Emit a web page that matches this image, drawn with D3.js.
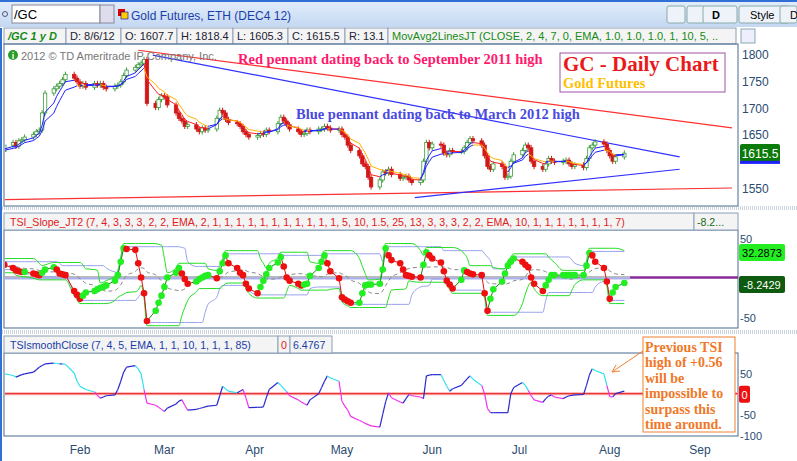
<!DOCTYPE html>
<html><head><meta charset="utf-8">
<script src="https://cdn.jsdelivr.net/npm/d3@7"></script>
<style>body{margin:0;background:#fff;font-family:"Liberation Sans",Arial,sans-serif;}</style>
</head><body>
<svg id="c" width="797" height="461"></svg>
<script>
// daily closes, Jan 3 .. Aug 6 2012
const closes = [1615,1622,1618,1630,1635,1628,1638,1640,1645,1650,1655,1658,
1690,1727,1735,1740,1745,1752,1762,
1755,1748,1740,1745,1738,1745,1742,1745,
1738,1735,1740,1742,1748,1760,1770,
1775,1780,1783,1790,
1708,1700,1715,1722,1720,1705,1690,1680,
1675,1665,1668,1660,1655,1662,1658,1660,
1680,1695,1690,1678,1672,1670,1665,
1655,1650,1645,1648,1652,1650,1658,1655,
1670,1682,1675,1668,1660,1655,1650,
1652,1658,1655,1660,1660,1665,1662,1658,1660,
1650,1645,1630,1620,1610,1595,1590,1570,1552,
1565,1580,1578,1585,1575,1568,1570,
1572,1565,1560,1565,1600,1635,
1625,1632,1630,1615,1612,1620,1618,1618,
1625,1635,1642,1638,1630,1610,1590,
1585,1595,1590,1570,1572,1600,1612,
1620,1630,1625,1600,1590,1585,
1595,1605,1600,1598,1600,1602,1595,1590,1593,1588,1605,1625,
1630,1636,1632,1620,1610,1600,1608,1615];

const slope = [12,15,18,16,12,9, 8,7,7,5,4,3, 6,10,13,10,5,4,3, -17,-22,-27,-23,-19,
-17,-15,-13,-12,-10,-4,3, 20,37,36,35,18,0,-20, -55,-42,-32,-23,-12,0,6, 12,5,-2,-8,-5,-2,
0,2,3,-1,8,18, 28,18,12,6,3,-8,-14, -20,-12,-4,4,12,19,26, 14,0,-4,-8,-10,-9,-8,
2,12,20,28,18,8,-1, -25,-28,-30,-32,-32,-20,-10, -9,-9,-8,10,37,28,22, 18,10,3,2,1,0,16,
32,28,24,19,8,-4,-9, -14,-3,9,7,5,4,3, -20,-42,-27,-15,-5,5,15,20, 24,20,16,13,0,-8,
-17,-10,-3,3,3,3,3, 3,3,3,3,15,31, 28,20,12,-5,-27,-19,-12,-7];

const tsi = [22,35,44,48,44,40,43,46,48,52,58,64, 68,72,74,73,72,72,71, 50,30,18,14,10,
4,-4,-11,-8,-5,-3, 10,30,52,64,68,60,48, 10,-23,-28,-33,-38,-43, -35,-25,-18,-15,-28,-40,
-38,-36,-34,-32,-30,-28, -5,18,12,6,2,6,10, -10,-34,-33,-33,-32, -10,10,27,20,12,5,-5,-15,
-20,-24,-28, -15,0,15,30,43,38,30,-19, -30,-40,-55,-65, -68,-72,-75,-78,-81, -50,-20,2,
-10,-20,-23,-12,-2,-5,-8,-12,43, 45,46,46,32,18,6, 12,20,28,36,43, 35,20,0,-36,-46,
-46,-46,-46,-46,0, 15,27,20,8,-5,-15,-21, -12,-6,-3,-8,-12, -8,-5,-4,-3,-2,20,45,
60,56,48,20,-7,-8,0,6];

const months = ["Feb","Mar","Apr","May","Jun","Jul","Aug","Sep"];
const priceTicks = [1800,1750,1700,1650,1550];
// trend lines: [start date, start price, end date, end price]
const trendLines = [
  {c:"#ff3030", p:["2012-02-21",1807,"2012-09-12",1662]},
  {c:"#ff3030", p:["2012-01-04",1528,"2012-09-12",1550]},
  {c:"#3030ff", p:["2012-02-26",1798,"2012-08-25",1608]},
  {c:"#3030ff", p:["2012-05-26",1532,"2012-08-25",1585]}
];

// trading days
const dates = [];
for (let d = new Date(2012,0,3); dates.length < closes.length; d = new Date(d.getTime()+864e5)) {
  if (d.getDay() !== 0 && d.getDay() !== 6) dates.push(d);
}

const svg = d3.select("#c");
const x = d3.scaleTime().domain([new Date(2012,1,1), new Date(2012,8,1)]).range([80,700]);
const yP = d3.scaleLinear().domain([1550,1800]).range([188,54]);
const yS = d3.scaleLinear().domain([-50,50]).range([317,238]);
const yT = d3.scaleLinear().domain([-100,50]).range([435,373]);

// ---- window chrome
const grad = svg.append("defs").append("linearGradient").attr("id","hd").attr("x2",0).attr("y2",1);
grad.append("stop").attr("offset",0).attr("stop-color","#e4eefb");
grad.append("stop").attr("offset",1).attr("stop-color","#c4d8f2");
svg.append("rect").attr("width",797).attr("height",461).attr("fill","#fff");
svg.append("rect").attr("width",797).attr("height",27).attr("fill","url(#hd)");
svg.append("rect").attr("width",797).attr("height",2).attr("fill","#2f6fd6");
svg.append("circle").attr("cx",5).attr("cy",14).attr("r",2.5).attr("fill","none").attr("stroke","#557");
svg.append("rect").attr("x",12).attr("y",5).attr("width",88).attr("height",18).attr("fill","#fff").attr("stroke","#889");
svg.append("rect").attr("x",100).attr("y",5).attr("width",14).attr("height",18).attr("fill","#dde").attr("stroke","#889");
svg.append("text").attr("x",14).attr("y",19).text("/GC").attr("font-size",13).attr("fill","#000");
svg.append("rect").attr("x",118).attr("y",9).attr("width",7).attr("height",7).attr("fill","#d00");
svg.append("rect").attr("x",121).attr("y",12).attr("width",7).attr("height",7).attr("fill","#fc0").attr("stroke","#00a").attr("stroke-width",0.6);
svg.append("text").attr("x",131).attr("y",20).text("Gold Futures, ETH (DEC4 12)").attr("font-size",12).attr("fill","#1a3ea8");
[[667,18],[687,18],[703,34],[739,50],[780,17]].forEach(([bx,bw])=>{
  svg.append("rect").attr("x",bx).attr("y",6).attr("width",bw).attr("height",17).attr("rx",2).attr("fill","#eef3fa").attr("stroke","#8aa");
});
svg.append("text").attr("x",716).attr("y",19).text("D").attr("font-size",11).attr("font-weight","bold").attr("text-anchor","middle");
svg.append("text").attr("x",750).attr("y",19).text("Style").attr("font-size",11);
svg.append("text").attr("x",790).attr("y",19).text("D").attr("font-size",11);

// info row
const cells = [["/GC 1 y D",4,62,"#168a16",true],["D: 8/6/12",66,55,"#223"],["O: 1607.7",121,56,"#223"],
  ["H: 1818.4",177,56,"#223"],["L: 1605.3",233,55,"#223"],["C: 1615.5",288,57,"#223"],["R: 13.1",345,43,"#223"],
  ["MovAvg2LinesJT (CLOSE, 2, 4, 7, 0, EMA, 1.0, 1.0, 1.0, 1, 10, 5, ..",388,348,"#168a16"]];
cells.forEach(([t,cx,cw,col,b])=>{
  svg.append("rect").attr("x",cx).attr("y",28).attr("width",cw).attr("height",16).attr("fill","#f4f4f4").attr("stroke","#8aa0b8");
  svg.append("text").attr("x",cx+4).attr("y",40).text(t).attr("font-size",11).attr("fill",col).attr("font-weight",b?"bold":null).attr("font-style",b?"italic":null);
});
svg.append("rect").attr("x",741).attr("y",29).attr("width",14).attr("height",14).attr("fill","#eef").attr("stroke","#8aa");

// panel frames
const frame = (y0,y1)=>svg.append("rect").attr("x",4).attr("y",y0).attr("width",734).attr("height",y1-y0).attr("fill","none").attr("stroke","#4a6a90");
frame(44,206); frame(230,328); frame(353,436);
[207,209,331,333].forEach(yy=>svg.append("line").attr("x1",0).attr("x2",797).attr("y1",yy).attr("y2",yy).attr("stroke","#9ab").attr("stroke-dasharray","1,1"));
svg.append("line").attr("x1",1).attr("x2",1).attr("y1",28).attr("y2",461).attr("stroke","#2f6fd6").attr("stroke-width",2);

svg.append("defs").selectAll("clipPath").data([["cp",44,162],["cs",230,98],["ct",353,83]]).join("clipPath").attr("id",d=>d[0])
  .append("rect").attr("x",5).attr("y",d=>d[1]).attr("width",733).attr("height",d=>d[2]);

// ---- price panel
const gp = svg.append("g").attr("clip-path","url(#cp)");
trendLines.forEach(t=>{
  gp.append("line").attr("x1",x(new Date(t.p[0]))).attr("y1",yP(t.p[1])).attr("x2",x(new Date(t.p[2]))).attr("y2",yP(t.p[3]))
    .attr("stroke",t.c).attr("stroke-width",1.2);
});
const candles = closes.map((c,i)=>{ const o = i ? closes[i-1] : c - 3; return {d:dates[i],o,c,h:Math.max(o,c)+5,l:Math.min(o,c)-5}; });
const cg = gp.selectAll("g.k").data(candles).join("g");
cg.append("line").attr("x1",d=>x(d.d)).attr("x2",d=>x(d.d)).attr("y1",d=>yP(d.h)).attr("y2",d=>yP(d.l))
  .attr("stroke",d=>d.c>=d.o?"#3a9a3a":"#d01818");
cg.append("rect").attr("x",d=>x(d.d)-1.7).attr("width",3.4).attr("y",d=>yP(Math.max(d.o,d.c)))
  .attr("height",d=>Math.max(1,Math.abs(yP(d.o)-yP(d.c))))
  .attr("fill",d=>d.c>=d.o?"#fff":"#d01818").attr("stroke",d=>d.c>=d.o?"#3a9a3a":"#d01818").attr("stroke-width",0.8);
function ema(arr,n){ const k=2/(n+1); let e=arr[0]; return arr.map(v=>e=e+k*(v-e)); }
const e4 = ema(closes,4), e7 = ema(closes,7);
[[e4,"#2020ff","#ff2020"],[e7,"#2020ff","#ffb000"]].forEach(([s,up,dn])=>{
  for (let i=1;i<s.length;i++) gp.append("line").attr("x1",x(dates[i-1])).attr("x2",x(dates[i]))
    .attr("y1",yP(s[i-1])).attr("y2",yP(s[i])).attr("stroke",s[i]>=s[i-1]?up:dn).attr("stroke-width",1);
});
svg.append("circle").attr("cx",13).attr("cy",55).attr("r",5).attr("fill","#2a9a2a");
svg.append("text").attr("x",13).attr("y",58.5).text("i").attr("font-size",9).attr("fill","#fff").attr("text-anchor","middle").attr("font-weight","bold");
svg.append("text").attr("x",21).attr("y",60).text("2012 © TD Ameritrade IP Company, Inc.").attr("font-size",11).attr("fill","#777");
const serif = '"Liberation Serif","DejaVu Serif",serif';
svg.append("text").attr("x",238).attr("y",64).text("Red pennant dating back to September 2011 high").attr("font-family",serif).attr("font-weight","bold").attr("font-size",14.5).attr("fill","#ff1a6e");
svg.append("text").attr("x",296).attr("y",119).text("Blue pennant dating back to March 2012 high").attr("font-family",serif).attr("font-weight","bold").attr("font-size",14.5).attr("fill","#4a4ae0");
svg.append("rect").attr("x",560).attr("y",53).attr("width",165).attr("height",39).attr("fill","#fff").attr("stroke","#a050a8");
svg.append("text").attr("x",563).attr("y",71).text("GC - Daily Chart").attr("font-family",serif).attr("font-weight","bold").attr("font-size",21).attr("fill","#e81a1a");
svg.append("text").attr("x",563).attr("y",88).text("Gold Futures").attr("font-family",serif).attr("font-weight","bold").attr("font-size",14.5).attr("fill","#ffc000");
priceTicks.forEach(p=>svg.append("text").attr("x",742).attr("y",yP(p)+5).text(p).attr("font-size",12).attr("fill","#2a4a70"));
svg.append("rect").attr("x",740).attr("y",yP(1615.5)-9).attr("width",40).attr("height",18).attr("rx",2).attr("fill","#0a7a0a");
svg.append("rect").attr("x",740).attr("y",yP(1615.5)+8).attr("width",40).attr("height",3).attr("fill","#2020ff");
svg.append("text").attr("x",760).attr("y",yP(1615.5)+5).text("1615.5").attr("font-size",12).attr("fill","#fff").attr("text-anchor","middle");

// ---- TSI slope panel
svg.append("rect").attr("x",4).attr("y",213).attr("width",690).attr("height",17).attr("fill","#f4f4f4").attr("stroke","#8aa0b8");
svg.append("rect").attr("x",694).attr("y",213).attr("width",44).attr("height",17).attr("fill","#f4f4f4").attr("stroke","#8aa0b8");
svg.append("text").attr("x",10).attr("y",226).text("TSI_Slope_JT2 (7, 4, 3, 3, 3, 2, 2, EMA, 2, 1, 1, 1, 1, 1, 1, 1, 1, 1, 1, 1, 5, 10, 1.5, 25, 13, 3, 3, 3, 2, 2, EMA, 10, 1, 1, 1, 1, 1, 1, 1, 7)").attr("font-size",10.6).attr("fill","#e02020");
svg.append("text").attr("x",697).attr("y",226).text("-8.2...").attr("font-size",10.6).attr("fill","#146a14");
const gs = svg.append("g").attr("clip-path","url(#cs)");
const roll = (a,n,f)=>a.map((v,i)=>f(a.slice(Math.max(0,i-n+1),i+1)));
const hiG = roll(slope,8,d3.max).map(v=>v+6), loG = roll(slope,8,d3.min).map(v=>v-6);
const hiB = roll(slope,14,d3.max).map(v=>v+2), loB = roll(slope,14,d3.min).map(v=>v-2);
const mid = roll(slope,10,d3.mean);
const ln = s=>d3.line().curve(d3.curveMonotoneX).x((v,i)=>x(dates[i])).y(v=>yS(v))(s);
gs.append("line").attr("x1",5).attr("x2",630).attr("y1",yS(0)).attr("y2",yS(0)).attr("stroke","#bbb").attr("stroke-width",3);
gs.append("line").attr("x1",5).attr("x2",630).attr("y1",yS(0)+1).attr("y2",yS(0)+1).attr("stroke","#aab0ee").attr("stroke-width",2);
gs.append("line").attr("x1",630).attr("x2",738).attr("y1",yS(0)).attr("y2",yS(0)).attr("stroke","#8a2a9a").attr("stroke-width",2.5);
[hiB,loB].forEach(s=>gs.append("path").attr("d",ln(s)).attr("fill","none").attr("stroke","#9aa0ee"));
[hiG,loG].forEach(s=>gs.append("path").attr("d",ln(s)).attr("fill","none").attr("stroke","#22dd22"));
gs.append("path").attr("d",ln(mid)).attr("fill","none").attr("stroke","#888").attr("stroke-dasharray","4,3");
const upS = (i)=> i===0 || slope[i]>=slope[i-1];
for (let i=1;i<slope.length;i++) gs.append("line").attr("x1",x(dates[i-1])).attr("x2",x(dates[i])).attr("y1",yS(slope[i-1])).attr("y2",yS(slope[i]))
  .attr("stroke",upS(i)?"#118811":"#e01010");
gs.selectAll("circle").data(slope).join("circle").attr("cx",(v,i)=>x(dates[i])).attr("cy",v=>yS(v)).attr("r",3.3)
  .attr("fill",(v,i)=>upS(i)?"#22ee22":"#ee1010");
svg.append("text").attr("x",740).attr("y",yS(50)+5).text("50").attr("font-size",11).attr("fill","#2a4a70");
svg.append("text").attr("x",740).attr("y",yS(-50)+5).text("-50").attr("font-size",11).attr("fill","#2a4a70");
svg.append("rect").attr("x",739).attr("y",yS(32.3)-8).attr("width",46).attr("height",17).attr("rx",2).attr("fill","#22ee22");
svg.append("text").attr("x",762).attr("y",yS(32.3)+5).text("32.2873").attr("font-size",11).attr("text-anchor","middle").attr("fill","#000");
svg.append("rect").attr("x",739).attr("y",yS(-8.2)-8).attr("width",46).attr("height",17).attr("rx",2).attr("fill","#0e5a0e");
svg.append("text").attr("x",762).attr("y",yS(-8.2)+5).text("-8.2429").attr("font-size",11).attr("text-anchor","middle").attr("fill","#fff");

// ---- TSI smooth panel
svg.append("rect").attr("x",4).attr("y",336).attr("width",274).attr("height",17).attr("fill","#f4f4f4").attr("stroke","#8aa0b8");
svg.append("rect").attr("x",278).attr("y",336).attr("width",12).attr("height",17).attr("fill","#f4f4f4").attr("stroke","#8aa0b8");
svg.append("rect").attr("x",290).attr("y",336).attr("width",42).attr("height",17).attr("fill","#f4f4f4").attr("stroke","#8aa0b8");
svg.append("text").attr("x",10).attr("y",349).text("TSIsmoothClose (7, 4, 5, EMA, 1, 1, 10, 1, 1, 1, 85)").attr("font-size",10.6).attr("fill","#1a3ea8");
svg.append("text").attr("x",281).attr("y",349).text("0").attr("font-size",10.6).attr("fill","#e02020");
svg.append("text").attr("x",293).attr("y",349).text("6.4767").attr("font-size",10.6).attr("fill","#1a3ea8");
const gt = svg.append("g").attr("clip-path","url(#ct)");
gt.append("line").attr("x1",5).attr("x2",738).attr("y1",yT(0)).attr("y2",yT(0)).attr("stroke","#ffaaaa").attr("stroke-width",3);
gt.append("line").attr("x1",5).attr("x2",738).attr("y1",yT(0)).attr("y2",yT(0)).attr("stroke","#e02020").attr("stroke-width",1);
for (let i=1;i<tsi.length;i++){
  const up = tsi[i]>=tsi[i-1];
  gt.append("line").attr("x1",x(dates[i-1])).attr("x2",x(dates[i])).attr("y1",yT(tsi[i-1])).attr("y2",yT(tsi[i]))
    .attr("stroke",up?"#2a2ad0":(tsi[i]>0?"#33e0f0":"#ee33ee")).attr("stroke-width",1.2);
}
[[50,"50"],[-50,"-50"],[-100,"-100"]].forEach(([v,t])=>svg.append("text").attr("x",740).attr("y",yT(v)+5).text(t).attr("font-size",11).attr("fill","#2a4a70"));
svg.append("rect").attr("x",739).attr("y",yT(0)-8).attr("width",11).attr("height",17).attr("rx",2).attr("fill","#ee1010");
svg.append("text").attr("x",744.5).attr("y",yT(0)+5).text("0").attr("font-size",11).attr("text-anchor","middle").attr("fill","#fff");
svg.append("rect").attr("x",643).attr("y",337).attr("width",92).attr("height",95).attr("fill","#fff").attr("stroke","#f08030");
["Previous TSI","high of +0.56","will be","impossible to","surpass this","time around."].forEach((t,i)=>
  svg.append("text").attr("x",645).attr("y",352+i*15.4).text(t).attr("font-family",serif).attr("font-weight","bold").attr("font-size",14).attr("fill","#f07828"));
svg.append("line").attr("x1",643).attr("y1",351).attr("x2",612).attr("y2",372).attr("stroke","#f08030");
svg.append("path").attr("d","M612,372 l4,-7 M612,372 l8,-1").attr("stroke","#f08030").attr("fill","none");

// months
svg.selectAll("text.m").data(months).join("text").attr("x",(m,i)=>x(new Date(2012,i+1,1))).attr("y",454)
  .text(m=>m).attr("font-size",12).attr("text-anchor","middle").attr("fill","#2a4a70");
</script>
</body></html>
